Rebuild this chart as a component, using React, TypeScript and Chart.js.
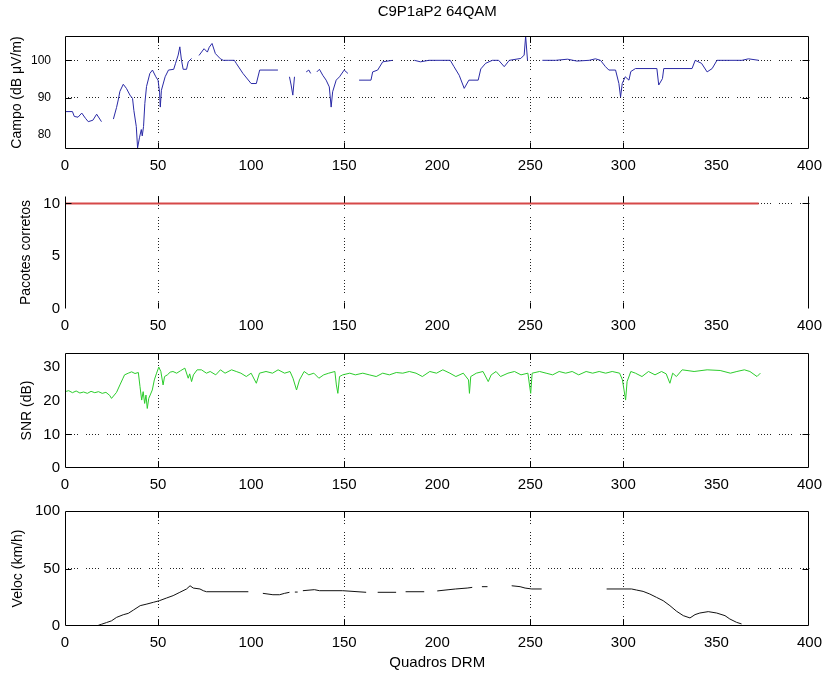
import React, { useEffect, useRef } from "react";
import { Chart, registerables } from "chart.js";

Chart.register(...registerables);

const FIG_TITLE = "C9P1aP2 64QAM";
const X_LABEL = "Quadros DRM";
const xTickValues = [0, 50, 100, 150, 200, 250, 300, 350, 400];
const xGridValues = [50, 150, 250, 300];

const campoTicks = [80, 90, 100];
const campoGrid = [90, 100];
const pacotesTicks = [0, 5, 10];
const pacotesGrid = [10];
const snrTicks = [0, 10, 20, 30];
const snrGrid = [10];
const velocTicks = [0, 50, 100];
const velocGrid = [50];

// Campo (dB uV/m) — null marks a break in the trace
const campoFrames = [
  0, 4, 5, 7, 9, 11, 12.5, 15, 17, 19.6, 22, 26, 27.7, 28.6, 29.5, 31.3, 33, 34.9, 36.3, 37,
  38.3, 39, 40, 41, 41.5, 42.2, 42.9, 43.8, 45.6, 47, 48.8, 50, 50.8, 51.2, 51.8, 53.8, 55.6, 58.4, 59.4, 60.8,
  61.7, 62.6, 63.5, 65.3, 66.2, 68, 70, 72, 74.7, 76.5, 77.5, 79, 80.8, 83.5, 85, 88, 91, 92, 95.6, 100,
  102.8, 104.6, 114.4, 116, 120.6, 121.5, 122.4, 123.3, 124.5, 129.6, 131, 132, 133.5, 135.3, 136.7, 138.5, 140.3, 142, 143, 143.8,
  145.7, 147.5, 150, 152, 155, 158, 164.4, 165.3, 168, 170.7, 176, 178, 187.7, 191, 195.5, 207, 209, 211.8, 214.5, 217,
  222, 223.4, 226, 229.6, 233, 236, 238.7, 244.9, 246.7, 247.5, 248.5, 250, 256.5, 263.6, 270, 275, 281.6, 285, 287.7, 290.4,
  292.2, 295.8, 297.6, 298.5, 299.4, 301, 303, 304, 306.5, 318, 319, 321, 321.7, 336.9, 338.6, 342, 345, 347.7, 350.3, 363.7,
  367.2, 372.7,
];
const campoValues = [
  86.3, 86.3, 85.0, 84.8, 85.9, 84.5, 83.6, 84.0, 85.6, 83.6, null, 84.3, 87.4, 89.4, 91.7, 93.6, 92.5, 90.7, 89.8, 86.6,
  82.3, 76.6, 79.3, 81.5, 79.8, 82.3, 88.5, 93.0, 96.5, 97.4, 95.6, 94.7, 91.5, 87.5, 92.0, 95.6, 97.4, 97.6, 99.2, 101.4,
  103.6, 100.0, 97.6, 97.6, 99.6, 100.5, null, 101.3, 103.1, 102.2, 103.5, 104.5, 101.8, 100.4, 100.0, 100.0, 100.0, 99.2, 96.5, 93.8,
  93.8, 97.4, 97.4, null, 95.6, 93.4, 90.7, 95.6, null, 96.9, 97.4, 96.5, null, 96.9, 97.6, 96.0, 94.7, 92.9, 87.5, 91.6,
  94.7, 95.6, 97.4, 96.5, null, 94.7, 94.7, 96.9, 97.4, 99.6, 100.0, null, 100.0, 99.6, 100.0, 100.0, 98.3, 96.0, 92.5, 94.7,
  94.7, 97.7, 99.2, 100.0, 100.0, 98.3, 100.0, 100.5, 101.4, 106.5, 100.0, null, 100.0, 100.0, 100.3, 99.8, 100.0, 100.4, 100.0, 98.3,
  97.4, 97.4, 93.8, 90.2, 93.8, 95.6, 94.7, 97.0, 97.8, 97.8, 93.4, 95.1, 97.8, 97.8, 100.0, 99.2, 96.9, 97.8, 100.0, 100.0,
  100.4, 100.0,
];

// Pacotes corretos
const pacotesFrames = [0, 372.7];
const pacotesValues = [10, 10];

// SNR (dB)
const snrFrames = [
  0, 2, 4, 6, 8, 10, 12, 14, 16, 18, 20, 22, 24, 25, 27.7, 29.5, 31, 32, 34, 35.8,
  37.6, 39.4, 40.3, 41.2, 42, 42.8, 43.5, 44.2, 45, 46, 46.9, 48, 49.2, 50.4, 51.5, 52.7, 53.5, 55, 56.5, 58,
  60, 62, 64.4, 66.2, 67, 68, 69, 71, 73.3, 76, 78, 81, 83.5, 86, 89.5, 92, 94.5, 97.4, 100, 102.8,
  104.5, 108, 111.5, 114.5, 118, 120.9, 122.5, 124.4, 126, 128.5, 131, 133.7, 136.4, 139, 141.7, 145, 145.8, 146.6, 147.5, 149.2,
  153, 156, 160, 163.5, 167.2, 170.7, 174.3, 178, 181.5, 185, 188.6, 192, 196, 199.6, 203, 206.8, 210, 214, 216.8, 217.3,
  218, 221, 224.6, 227.4, 229, 231.6, 234, 238, 241.5, 245, 248.7, 249.5, 250.2, 251, 255, 258.5, 262, 265.5, 269, 272.5,
  276, 280, 283.5, 287, 290.5, 294, 298, 299.5, 301.2, 302, 304, 306.5, 310, 313.5, 317, 320.5, 323, 325, 326.5, 328.5,
  331.6, 338, 345, 352, 357.5, 361, 365, 368, 371.8, 373.6,
];
const snrValues = [
  22.7, 23.0, 22.4, 22.9, 22.3, 22.6, 22.2, 22.8, 22.4, 22.7, 22.2, 22.5, 21.6, 20.7, 22.5, 24.7, 26.5, 27.7, 28.2, 28.6,
  28.1, 28.4, 24.2, 20.2, 22.7, 19.2, 21.7, 17.7, 20.7, 22.0, 23.2, 26.2, 28.2, 30.0, 28.7, 24.7, 27.2, 27.7, 28.5, 28.7,
  28.2, 28.9, 29.7, 26.7, 28.0, 25.7, 27.7, 29.2, 29.2, 28.2, 28.7, 27.7, 29.2, 28.2, 29.2, 28.7, 28.2, 27.2, 28.2, 25.2,
  28.2, 28.7, 28.2, 29.2, 28.2, 28.7, 26.7, 23.2, 26.2, 28.7, 27.7, 28.2, 26.7, 27.7, 28.2, 28.7, 24.7, 22.2, 27.2, 27.7,
  28.2, 27.7, 28.2, 27.7, 27.2, 28.2, 27.7, 28.4, 28.2, 28.7, 28.2, 27.2, 28.7, 28.2, 29.2, 28.2, 27.2, 28.2, 26.2, 22.2,
  27.2, 28.2, 28.7, 25.7, 27.7, 28.7, 27.2, 28.2, 28.7, 27.7, 28.2, 25.0, 22.2, 28.2, 28.7, 28.2, 27.7, 28.7, 28.2, 28.7,
  27.7, 28.7, 28.2, 28.7, 28.2, 28.7, 28.2, 26.2, 20.2, 25.7, 28.7, 28.2, 27.2, 28.7, 27.7, 28.7, 28.0, 25.2, 28.2, 27.2,
  29.2, 28.7, 29.2, 29.0, 28.2, 28.7, 29.2, 28.7, 27.2, 28.2,
];

// Veloc (km/h)
const velocFrames = [
  17.9, 19.6, 22.3, 25, 27.7, 31.3, 34, 36.8, 40.4, 44, 47.5, 50.7, 54.5, 58.1, 61.7, 65.3, 67.2, 68.9, 72.5, 74.3,
  76, 98.5, 101, 106.3, 111.7, 115.3, 118, 120.6, 122, 123.5, 125, 126, 127.8, 134, 136.7, 149.2, 161.8, 164, 168, 177.9,
  181, 183, 193, 196, 200, 206.3, 209.9, 216.1, 218.8, 221, 224, 227, 229, 240, 244.5, 247.2, 250.8, 256.1, 258, 291,
  304.4, 307, 310.6, 314.2, 317.8, 321.4, 325, 328.6, 332.2, 335.8, 338.5, 341.1, 345.6, 350.1, 354.6, 357.2, 360.8, 363.5,
];
const velocValues = [
  0.6, 1.5, 3.0, 4.5, 7.5, 9.8, 11.0, 13.9, 17.7, 19.1, 20.6, 22.0, 24.3, 26.4, 29.3, 32.2, 35.0, 33.0, 32.2, 30.7,
  29.8, 29.8, null, 28.4, 27.2, 27.2, 28.4, 29.3, null, 29.5, 29.5, null, 30.7, 31.6, 30.7, 30.7, 29.3, null, 29.3, 29.3,
  null, 29.8, 29.8, null, 30.5, 31.6, 32.2, 33.0, 33.6, null, 34.2, 34.2, null, 35.0, 34.2, 33.0, 32.2, 32.2, null, 32.2,
  32.2, 31.3, 30.1, 27.8, 24.9, 22.0, 17.7, 12.8, 9.0, 7.0, 9.9, 11.3, 12.5, 11.3, 9.0, 6.1, 3.2, 1.8,
];

const FONT = "'Liberation Sans', Arial, Helvetica, sans-serif";

type Panel = {
  top: number;
  height: number;
  padTop: number;
  axisH: number;
  frames: number[];
  values: (number | null)[];
  color: string;
  lineW: number;
  yMin: number;
  yMax: number;
  yTicks: number[];
  yGrid: number[];
  yLabel: string;
  yLabelPad: number;
  yTickFont: number;
  yTickPad: number;
  sides: string[];
  title?: string;
  xTitle?: string;
};

const panels: Panel[] = [
  {
    top: 0, height: 175, padTop: 0, axisH: 26,
    frames: campoFrames, values: campoValues, color: "#2a2aa6", lineW: 1,
    yMin: 76.3, yMax: 106.5, yTicks: campoTicks, yGrid: campoGrid,
    yLabel: "Campo (dB μV/m)", yLabelPad: 9.1, yTickFont: 12, yTickPad: 14,
    sides: ["top", "bottom", "left", "right"], title: FIG_TITLE,
  },
  {
    top: 175, height: 160, padTop: 21, axisH: 26,
    frames: pacotesFrames, values: pacotesValues, color: "#d64848", lineW: 2,
    yMin: 0, yMax: 10.7, yTicks: pacotesTicks, yGrid: pacotesGrid,
    yLabel: "Pacotes corretos", yLabelPad: 17.6, yTickFont: 15, yTickPad: 5,
    sides: ["left", "right"],
  },
  {
    top: 335, height: 160, padTop: 18, axisH: 27,
    frames: snrFrames, values: snrValues, color: "#2ccc2c", lineW: 1,
    yMin: 0, yMax: 34.2, yTicks: snrTicks, yGrid: snrGrid,
    yLabel: "SNR (dB)", yLabelPad: 19.1, yTickFont: 15, yTickPad: 5,
    sides: ["top", "bottom", "left", "right"],
  },
  {
    top: 495, height: 182, padTop: 16, axisH: 51,
    frames: velocFrames, values: velocValues, color: "#111111", lineW: 1,
    yMin: 0, yMax: 100, yTicks: velocTicks, yGrid: velocGrid,
    yLabel: "Veloc (km/h)", yLabelPad: 9.6, yTickFont: 15, yTickPad: 5,
    sides: ["top", "bottom", "left", "right"], xTitle: X_LABEL,
  },
];

const framePlugin = {
  id: "matlabFrame",
  afterDatasetsDraw(chart: any, _args: any, opts: any) {
    const { ctx, chartArea } = chart;
    const { left, right, top, bottom } = chartArea;
    const xs = chart.scales.x;
    const ys = chart.scales.y;
    const L = 6;
    const sides: string[] = opts.sides || [];
    ctx.save();
    ctx.strokeStyle = "#000";
    ctx.lineWidth = 1;
    ctx.setLineDash([]);
    ctx.beginPath();
    const l = Math.round(left) + 0.5;
    const r = Math.round(right) - 0.5;
    const t = Math.round(top) + 0.5;
    const b = Math.round(bottom) - 0.5;
    if (sides.includes("top")) { ctx.moveTo(l, t); ctx.lineTo(r, t); }
    if (sides.includes("bottom")) { ctx.moveTo(l, b); ctx.lineTo(r, b); }
    if (sides.includes("left")) { ctx.moveTo(l, t); ctx.lineTo(l, b); }
    if (sides.includes("right")) { ctx.moveTo(r, t); ctx.lineTo(r, b); }
    for (const v of opts.xMarks || []) {
      const px = Math.round(xs.getPixelForValue(v)) + 0.5;
      ctx.moveTo(px, b); ctx.lineTo(px, b - L);
      ctx.moveTo(px, t); ctx.lineTo(px, t + L);
    }
    for (const v of opts.yMarks || []) {
      const py = Math.round(ys.getPixelForValue(v)) + 0.5;
      ctx.moveTo(l, py); ctx.lineTo(l + L, py);
      ctx.moveTo(r, py); ctx.lineTo(r - L, py);
    }
    ctx.stroke();
    ctx.restore();
  },
};

const GRID_DASH = [1, 2, 1, 2, 1, 2, 1, 2, 1, 8];

function buildConfig(p: Panel): any {
  const data = p.frames.map((f, i) => ({ x: f, y: p.values[i] }));
  return {
    type: "line",
    data: {
      datasets: [
        {
          data,
          borderColor: p.color,
          borderWidth: p.lineW,
          pointRadius: 0,
          tension: 0,
          spanGaps: false,
          fill: false,
        },
      ],
    },
    options: {
      animation: false,
      responsive: false,
      devicePixelRatio: 1,
      layout: { padding: { left: 0, right: 19, top: p.padTop, bottom: 0 } },
      plugins: {
        legend: { display: false },
        tooltip: { enabled: false },
        title: p.title
          ? {
              display: true,
              text: p.title,
              fullSize: false,
              color: "#000",
              font: { family: FONT, size: 15, weight: "normal" },
              padding: { top: 3, bottom: 15 },
            }
          : { display: false },
        matlabFrame: { sides: p.sides, xMarks: xGridValues, yMarks: p.yGrid },
      },
      scales: {
        x: {
          type: "linear",
          min: 0,
          max: 400,
          afterBuildTicks: (s: any) => {
            s.ticks = xTickValues.map((v) => ({ value: v }));
          },
          afterFit: (s: any) => {
            s.height = p.axisH;
          },
          ticks: {
            autoSkip: false,
            maxRotation: 0,
            padding: 8,
            color: "#000",
            font: { family: FONT, size: 15 },
            callback: (v: any) => String(v),
          },
          grid: {
            drawTicks: false,
            lineWidth: 1,
            color: (c: any) =>
              c.tick && xGridValues.includes(c.tick.value) ? "#222" : "rgba(0,0,0,0)",
          },
          border: { display: false, dash: GRID_DASH },
          title: p.xTitle
            ? {
                display: true,
                text: p.xTitle,
                color: "#000",
                font: { family: FONT, size: 15 },
                padding: { top: 0, bottom: 5.5 },
              }
            : { display: false },
        },
        y: {
          type: "linear",
          min: p.yMin,
          max: p.yMax,
          afterBuildTicks: (s: any) => {
            s.ticks = p.yTicks.map((v) => ({ value: v }));
          },
          afterFit: (s: any) => {
            s.width = 65;
          },
          ticks: {
            autoSkip: false,
            padding: p.yTickPad,
            color: "#000",
            font: { family: FONT, size: p.yTickFont },
            callback: (v: any) => String(v),
          },
          grid: {
            drawTicks: false,
            lineWidth: 1,
            color: (c: any) =>
              c.tick && p.yGrid.includes(c.tick.value) ? "#222" : "rgba(0,0,0,0)",
          },
          border: { display: false, dash: GRID_DASH },
          title: {
            display: true,
            text: p.yLabel,
            color: "#000",
            font: { family: FONT, size: 14 },
            padding: { top: p.yLabelPad, bottom: 0 },
          },
        },
      },
    },
    plugins: [framePlugin],
  };
}

export default function App() {
  const refs = useRef<(HTMLCanvasElement | null)[]>([]);

  useEffect(() => {
    const charts: Chart[] = [];
    panels.forEach((p, i) => {
      const cv = refs.current[i];
      if (!cv) return;
      charts.push(new Chart(cv, buildConfig(p)));
    });
    return () => {
      charts.forEach((c) => c.destroy());
    };
  }, []);

  return (
    <div
      style={{
        position: "fixed",
        left: 0,
        top: 0,
        width: 830,
        height: 677,
        background: "#ffffff",
        overflow: "hidden",
      }}
    >
      {panels.map((p, i) => (
        <canvas
          key={i}
          ref={(el) => {
            refs.current[i] = el;
          }}
          width={830}
          height={p.height}
          style={{
            position: "absolute",
            left: 0,
            top: p.top,
            width: 830,
            height: p.height,
            display: "block",
          }}
        />
      ))}
    </div>
  );
}
